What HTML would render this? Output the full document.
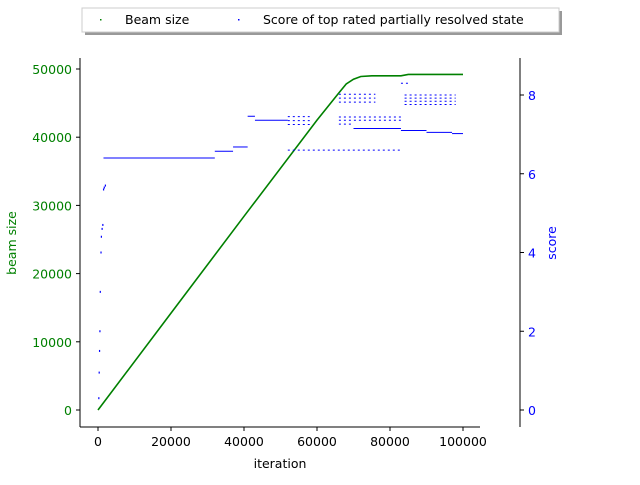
<!DOCTYPE html>
<html><head><meta charset="utf-8"><style>
body{margin:0;background:#fff}
svg{font-family:"DejaVu Sans","Liberation Sans",sans-serif;font-size:12.5px}
</style></head><body>
<svg id="chart" width="640" height="480" viewBox="0 0 640 480">
<g>
<rect x="85" y="11" width="477" height="24" fill="#999"/>
<rect x="82" y="8" width="477" height="24" fill="#fff" stroke="#ccc"/>
<rect x="100" y="19" width="1.5" height="1.5" fill="green"/>
<text x="125" y="24">Beam size</text>
<rect x="238" y="19" width="1.5" height="1.5" fill="blue"/>
<text x="263" y="24">Score of top rated partially resolved state</text>
</g>
<g id="axes"></g>
<g id="marks"></g>
<text x="280" y="468" text-anchor="middle">iteration</text>
<text transform="translate(16,243) rotate(-90)" text-anchor="middle" fill="green">beam size</text>
<text transform="translate(556,243) rotate(-90)" text-anchor="middle" fill="blue">score</text>
</svg>
<script>
const xTicks=[0,20000,40000,60000,80000,100000];
const yTicks=[0,10000,20000,30000,40000,50000];
const y2Ticks=[0,2,4,6,8];
const beamIter=[0,20000,40000,60000,63000,66000,68000,70000,72000,75000,83000,85000,100000];
const beamSize=[0,14200,28400,42500,44500,46500,47800,48500,48900,49000,49000,49200,49200];
// score segments: start, end, score, dotted(1)
const segStart=[1500,32000,37000,41000,43000,52000,70000,83000,90000,97000,52000,52000,52000,66000,66000,66000,66000,66000,66000,84000,84000,84000,84000,83000];
const segEnd=[32000,37000,41000,43000,52000,83000,83000,90000,97000,100000,58000,58000,58000,83000,83000,76000,76000,76000,70000,98000,98000,98000,98000,85000];
const segScore=[6.4,6.57,6.68,7.46,7.36,6.6,7.15,7.1,7.05,7.02,7.45,7.35,7.25,7.44,7.36,8.02,7.92,7.82,7.26,8.0,7.92,7.84,7.76,8.3];
const segDotted=[0,0,0,0,0,1,0,0,0,0,1,1,1,1,1,1,1,1,1,1,1,1,1,1];
const earlyIter=[200,300,400,500,600,800,900,1100,1300,1500,1700,2000];
const earlyScore=[0.3,0.95,1.5,2.0,3.0,4.0,4.4,4.6,4.7,5.6,5.65,5.7];
const X=v=>98+v*365/100000, Y=v=>410-v*341/50000, Y2=v=>410-v*315/8;
const ns="http://www.w3.org/2000/svg";
function mk(t,a,p){const e=document.createElementNS(ns,t);for(const k in a)e.setAttribute(k,a[k]);p.appendChild(e);return e;}
const ax=document.getElementById('axes'), mg=document.getElementById('marks');
let e;
e=mk('line',{x1:80,y1:58,x2:80,y2:427,stroke:'#000'},ax);


e=mk('line',{x1:80,y1:427,x2:480,y2:427,stroke:'#000'},ax);


e=mk('line',{x1:520,y1:58,x2:520,y2:427,stroke:'#000'},ax);


xTicks.forEach(v=>{mk('line',{x1:X(v),y1:427,x2:X(v),y2:431,stroke:'#000'},ax);
e=mk('text',{x:X(v),y:446,'text-anchor':'middle'},ax);e.textContent=v;

});
yTicks.forEach(v=>{mk('line',{x1:76,y1:Y(v),x2:80,y2:Y(v),stroke:'#000'},ax);
e=mk('text',{x:72,y:Y(v)+5,'text-anchor':'end',fill:'green'},ax);e.textContent=v;

});
y2Ticks.forEach(v=>{mk('line',{x1:520,y1:Y2(v),x2:524,y2:Y2(v),stroke:'#000'},ax);
e=mk('text',{x:528,y:Y2(v)+5,fill:'blue'},ax);e.textContent=v;

});
e=mk('polyline',{points:beamIter.map((v,i)=>X(v)+','+Y(beamSize[i])).join(' '),fill:'none',stroke:'green','stroke-width':1.6},mg);


segStart.forEach((s,i)=>{
 const a={x1:X(s),y1:Y2(segScore[i]),x2:X(segEnd[i]),y2:Y2(segScore[i]),stroke:'blue','stroke-width':1};
 if(segDotted[i])a['stroke-dasharray']='2 3';
 e=mk('line',a,mg);
 
 });
earlyIter.forEach((v,i)=>{e=mk('rect',{x:X(v)-0.5,y:Y2(earlyScore[i])-1,width:1.2,height:2,fill:'blue'},mg);
 
 });
</script>
</body></html>
